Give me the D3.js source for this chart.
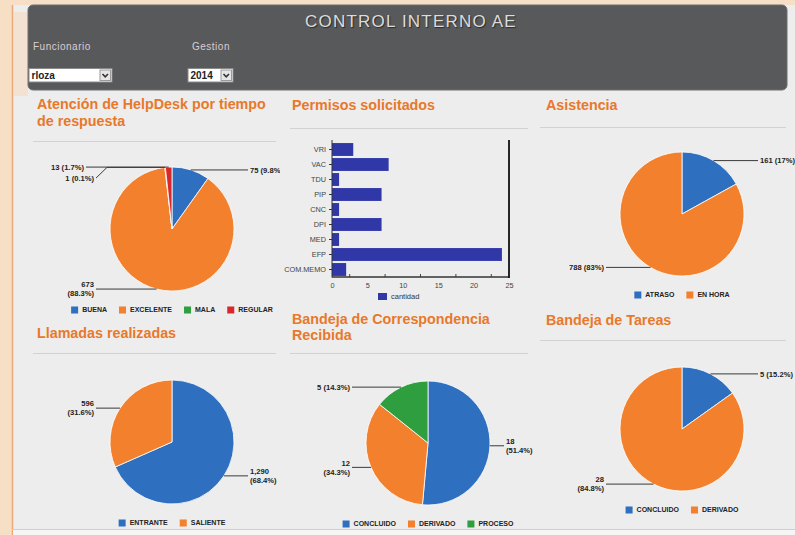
<!DOCTYPE html>
<html>
<head>
<meta charset="utf-8">
<script src="https://cdn.jsdelivr.net/npm/d3@7"></script>
<style>
  html, body { margin: 0; padding: 0; background: #f7dfc5; }
  svg { display: block; }
</style>
</head>
<body>
<svg id="dash" width="795" height="535"></svg>
<script>
// ---- data ----
const helpdeskCats = ["BUENA", "EXCELENTE", "MALA", "REGULAR"];
const helpdeskVals = [75, 673, 1, 13];

const permisoCats = ["VRI", "VAC", "TDU", "PIP", "CNC", "DPI", "MED", "EFP", "COM.MEMO"];
const permisoVals = [3, 8, 1, 7, 1, 7, 1, 24, 2];
const permisoTicks = [0, 5, 10, 15, 20, 25];
const permisoSeries = "cantidad";

const asistenciaCats = ["ATRASO", "EN HORA"];
const asistenciaVals = [161, 788];

const llamadasCats = ["ENTRANTE", "SALIENTE"];
const llamadasVals = [1290, 596];

const correspCats = ["CONCLUIDO", "DERIVADO", "PROCESO"];
const correspVals = [18, 12, 5];

const tareasCats = ["CONCLUIDO", "DERIVADO"];
const tareasVals = [5, 28];

const funcionario = "rloza";
const gestion = "2014";

// ---- styles ----
const FONT = "'Liberation Sans', Arial, sans-serif";
const W = 795, H = 535;
const palette = ["#2f6fbf", "#f2802c", "#2e9e3e", "#d8282c"];
const ORANGE = "#e8782a";

const svg = d3.select("#dash").style("font-family", FONT);
const defs = svg.append("defs");

// page background and frame
svg.append("rect").attr("width", W).attr("height", H).attr("fill", "#f7dfc5");
svg.append("rect").attr("x", 12).attr("y", 5).attr("width", W - 12).attr("height", H - 5).attr("fill", "#ededed");
svg.append("rect").attr("x", 14).attr("y", 12).attr("width", 14).attr("height", 84).attr("fill", "#f3e2d2");
svg.append("line").attr("x1", 12.5).attr("x2", 12.5).attr("y1", 5).attr("y2", H)
  .attr("stroke", "#e9a878").attr("stroke-width", 1.5);
svg.append("line").attr("x1", 12).attr("x2", W).attr("y1", 529.5).attr("y2", 529.5)
  .attr("stroke", "#cfcfcf");
svg.append("rect").attr("x", 13).attr("y", 530).attr("width", W - 13).attr("height", 5).attr("fill", "#f5f5f5");

// ---- header ----
svg.append("rect").attr("x", 28).attr("y", 5).attr("width", 759).attr("height", 85)
  .attr("rx", 5).attr("fill", "#58595b").attr("stroke", "#6e6f71");
svg.append("text").attr("x", 411).attr("y", 27).attr("text-anchor", "middle")
  .attr("font-size", 17).attr("letter-spacing", 1.2).attr("fill", "#dcdcdc")
  .style("text-shadow", "1px 1px 1px #2a2a2a")
  .text("CONTROL INTERNO AE");

function field(x, label, value, w) {
  svg.append("text").attr("x", x + 4).attr("y", 50).attr("font-size", 10)
    .attr("letter-spacing", 0.5).attr("fill", "#dccbd2").text(label);
  const g = svg.append("g").attr("transform", `translate(${x},68.5)`);
  g.append("rect").attr("width", w).attr("height", 13.5).attr("fill", "#fff").attr("stroke", "#8a8a8a");
  g.append("text").attr("x", 2.5).attr("y", 10.5).attr("font-size", 10).attr("font-weight", "bold")
    .attr("fill", "#222").text(value);
  g.append("rect").attr("x", w - 12).attr("y", 1.5).attr("width", 10.5).attr("height", 10.5)
    .attr("fill", "#e6e6e6").attr("stroke", "#9a9a9a");
  g.append("path").attr("d", `M${w - 9.5},5.5 L${w - 6.8},8.3 L${w - 4},5.5`)
    .attr("fill", "none").attr("stroke", "#333").attr("stroke-width", 1.6);
}
field(29, "Funcionario", funcionario, 83);
field(188, "Gestion", gestion, 45);

// ---- panel frame helpers ----
function panelTitle(x, baselines, lines) {
  lines.forEach((t, i) => svg.append("text").attr("x", x).attr("y", baselines[i])
    .attr("font-size", 14.3).attr("font-weight", "bold").attr("fill", ORANGE).text(t));
}
function separator(x1, x2, y) {
  svg.append("line").attr("x1", x1).attr("x2", x2).attr("y1", y + 0.5).attr("y2", y + 0.5)
    .attr("stroke", "#d2d2d2").attr("stroke-width", 1);
}
function clipFor(id, x, w) {
  defs.append("clipPath").attr("id", id).append("rect")
    .attr("x", x).attr("y", 0).attr("width", w).attr("height", H);
  return `url(#${id})`;
}

panelTitle(37, [109, 126], ["Atención de HelpDesk por tiempo", "de respuesta"]);
panelTitle(292, [110], ["Permisos solicitados"]);
panelTitle(546, [110], ["Asistencia"]);
panelTitle(37, [338], ["Llamadas realizadas"]);
panelTitle(292, [324, 340], ["Bandeja de Correspondencia", "Recibida"]);
panelTitle(546, [325], ["Bandeja de Tareas"]);

separator(33, 276, 141);
separator(290, 528, 128);
separator(540, 786, 127);
separator(33, 276, 353);
separator(290, 528, 353);
separator(540, 786, 340);

const clipA = clipFor("colA", 13, 267);
const clipB = clipFor("colB", 280, 255);
const clipC = clipFor("colC", 535, 260);

// ---- pie chart ----
const pctFmt = p => {
  const s = (Math.round(p * 1000) / 10).toFixed(1);
  return (s.endsWith(".0") ? s.slice(0, -2) : s) + "%";
};
const numFmt = d3.format(",");

function drawPie(opt) {
  const { cx, cy, r, cats, vals, clip } = opt;
  const g = svg.append("g").attr("clip-path", clip);
  const color = d3.scaleOrdinal().domain(cats).range(palette);
  const total = d3.sum(vals);
  const arcs = d3.pie().sort(null).value(d => d.v)(cats.map((c, i) => ({ c, v: vals[i] })));
  const arc = d3.arc().innerRadius(0).outerRadius(r);

  g.append("g").attr("transform", `translate(${cx},${cy})`)
    .selectAll("path").data(arcs).join("path")
    .attr("d", arc).attr("fill", d => color(d.data.c))
    .attr("stroke", "#fff").attr("stroke-width", 0.8);

  // slice labels, placed beside the pie with leader lines
  const labels = arcs.map(a => {
    const m = (a.startAngle + a.endAngle) / 2;
    const px = cx + r * Math.sin(m), py = cy - r * Math.cos(m);
    const num = numFmt(a.data.v), pct = "(" + pctFmt(a.data.v / total) + ")";
    const full = num + " " + pct;
    const lines = full.length > 9 ? [num, pct] : [full];
    return { px, py, ly: py, side: Math.sin(m) >= 0 ? 1 : -1, lines, h: lines.length * 9 + 2, pushed: false, extra: 0 };
  });
  [1, -1].forEach(side => {
    const s = labels.filter(l => l.side === side).sort((a, b) => a.py - b.py);
    for (let i = 1; i < s.length; i++) {
      const prev = s[i - 1], cur = s[i];
      const minY = prev.ly + (prev.h + cur.h) / 2;
      if (cur.ly < minY) { cur.ly = minY; cur.pushed = true; prev.extra = 10; }
    }
  });
  const gap = 16;
  labels.forEach(l => {
    const lx = cx + l.side * (r + gap + l.extra);
    let d;
    if (l.pushed) {
      const bx = cx + l.side * (r + 3);
      d = `M${l.px},${l.py} L${bx},${l.py} L${lx - l.side * 2},${l.ly}`;
    } else {
      d = `M${l.px},${l.py} L${lx - l.side * 2},${l.ly}`;
    }
    g.append("path").attr("d", d).attr("fill", "none").attr("stroke", "#3a3a3a").attr("stroke-width", 1);
    const t = g.append("text").attr("text-anchor", l.side > 0 ? "start" : "end")
      .attr("font-size", 7.6).attr("font-weight", "bold").attr("fill", "#222");
    const y0 = l.ly - (l.lines.length - 1) * 4.5;
    l.lines.forEach((txt, i) => t.append("tspan").attr("x", lx).attr("y", y0 + i * 9).attr("dy", "0.35em").text(txt));
  });

  // legend, centred under the pie
  const lg = g.append("g");
  let x = 0;
  const legendY = cy + r + 19;
  cats.forEach(c => {
    lg.append("rect").attr("x", x).attr("y", legendY - 3.5).attr("width", 7).attr("height", 7).attr("fill", color(c));
    const t = lg.append("text").attr("x", x + 11).attr("y", legendY).attr("dy", "0.35em")
      .attr("font-size", 7).attr("font-weight", "bold").attr("fill", "#222").text(c);
    x += 11 + t.node().getComputedTextLength() + 12;
  });
  x -= 12;
  lg.attr("transform", `translate(${cx - x / 2},0)`);
}

drawPie({ cx: 172, cy: 229, r: 62, cats: helpdeskCats, vals: helpdeskVals, clip: clipA });
drawPie({ cx: 682, cy: 214, r: 62, cats: asistenciaCats, vals: asistenciaVals, clip: clipC });
drawPie({ cx: 172, cy: 442, r: 62, cats: llamadasCats, vals: llamadasVals, clip: clipA });
drawPie({ cx: 428, cy: 443, r: 62, cats: correspCats, vals: correspVals, clip: clipB });
drawPie({ cx: 682, cy: 429, r: 62, cats: tareasCats, vals: tareasVals, clip: clipC });

// ---- horizontal bar chart ----
(function () {
  const x = d3.scaleLinear().domain([0, 25]).range([332, 509]);
  const y = d3.scaleBand().domain(permisoCats).range([142, 277]).paddingInner(0.14).paddingOuter(0.07);
  const g = svg.append("g").attr("clip-path", clipB);

  g.selectAll("rect.bar").data(permisoCats).join("rect").attr("class", "bar")
    .attr("x", x(0)).attr("y", c => y(c))
    .attr("width", (c, i) => x(permisoVals[i]) - x(0)).attr("height", y.bandwidth())
    .attr("fill", "#3038a8");

  // axes
  const yAxis = g.append("g").attr("transform", `translate(${x(0)},0)`)
    .call(d3.axisLeft(y).tickSize(3).tickPadding(3));
  yAxis.select(".domain").remove();
  yAxis.selectAll("line").attr("stroke", "#333");
  yAxis.selectAll("text").attr("font-size", 7.3).attr("fill", "#444").attr("font-family", FONT);

  const xAxis = g.append("g").attr("transform", "translate(0,277)")
    .call(d3.axisBottom(x).tickValues(permisoTicks).tickSize(0).tickPadding(6));
  xAxis.select(".domain").remove();
  xAxis.selectAll("text").attr("font-size", 7.3).attr("fill", "#444").attr("font-family", FONT);
  // minor ticks between the labelled values
  g.selectAll("line.minor").data(d3.range(2.5, 25, 5)).join("line").attr("class", "minor")
    .attr("x1", d => x(d)).attr("x2", d => x(d)).attr("y1", 274).attr("y2", 277)
    .attr("stroke", "#444");

  g.append("line").attr("x1", x(0)).attr("x2", x(0)).attr("y1", 140).attr("y2", 277.5)
    .attr("stroke", "#333").attr("stroke-width", 1);
  g.append("line").attr("x1", x(0)).attr("x2", x(25)).attr("y1", 277).attr("y2", 277)
    .attr("stroke", "#333").attr("stroke-width", 1.4);
  g.append("line").attr("x1", x(25)).attr("x2", x(25)).attr("y1", 140).attr("y2", 278)
    .attr("stroke", "#111").attr("stroke-width", 1.8);

  // legend
  g.append("rect").attr("x", 378).attr("y", 293).attr("width", 9).attr("height", 7).attr("fill", "#3038a8");
  g.append("text").attr("x", 391).attr("y", 296.5).attr("dy", "0.35em").attr("font-size", 7.5)
    .attr("fill", "#333").text(permisoSeries);
})();
</script>
</body>
</html>
